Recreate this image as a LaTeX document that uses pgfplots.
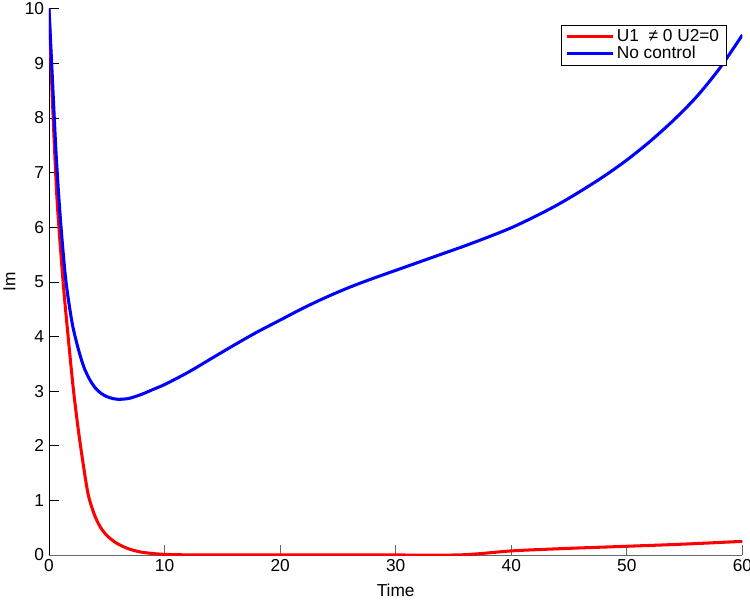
\documentclass[border=0pt]{standalone}
\usepackage{fontspec}
\setmainfont{Liberation Sans}
\usepackage{pgfplots}
\pgfplotsset{compat=1.18}

\begin{document}
\begin{tikzpicture}[x=0.01in,y=0.01in]
\begin{axis}[
    name=ax,
    at={(0,0)},
    anchor=south west,
    scale only axis,
    width=6.93in,
    height=5.46in,
    xmin=0, xmax=60,
    ymin=0, ymax=10,
    xtick={0,10,...,60},
    ytick={0,1,...,10},
    axis x line*=bottom,
    axis y line*=left,
    x axis line style={draw=gray!80!black, line width=0.6pt, -},
    y axis line style={draw=black, line width=0.6pt, -},
    tick align=inside,
    major tick length=0.1in,
    tick style={black, line width=0.5pt},
    xtick style={gray!80!black},
    font=\fontsize{12.5}{14}\selectfont,
    /pgf/number format/assume math mode=true,
    xlabel={Time},
    ylabel={Im},
    xlabel style={yshift=-0.02in},
    legend cell align=left,
    legend style={at={(rel axis cs:1,1)}, xshift=-0.16in, yshift=-0.16in,
        anchor=north east, draw=black, line width=0.5pt,
        font=\fontsize{12.5}{13}\selectfont, inner xsep=3pt, inner ysep=1pt, row sep=-2pt},
    legend image code/.code={\draw[#1, line width=2.2pt] (0in,0in) -- (0.45in,0in);},
]
\addplot[red, line width=2.2pt, smooth, tension=0.5] coordinates {
    (0,10) (0.3,8.3) (0.67,6.6) (1.0,5.6) (1.3,4.8) (1.7,3.9) (2.1,3.05)
    (2.5,2.35) (2.9,1.75) (3.4,1.1) (4,0.7) (4.6,0.46) (5.2,0.32)
    (5.9,0.21) (6.8,0.12) (7.7,0.065) (8.6,0.035) (10,0.012) (12,0.003)
    (15,0) (20,0) (25,0) (30,0) (35,0) (37,0.02) (40,0.075) (43,0.105)
    (46,0.13) (50,0.16) (55,0.2) (60,0.25)
};
\addplot[blue, line width=2.2pt, smooth, tension=0.5] coordinates {
    (0,10) (0.3,8.7) (0.6,7.4) (0.9,6.4) (1.2,5.6) (1.5,4.95) (2,4.25)
    (2.5,3.8) (3,3.45) (3.5,3.22) (4,3.06) (4.5,2.96) (5,2.9) (5.5,2.865)
    (6,2.85) (6.5,2.855) (7,2.87) (8,2.94) (9,3.03) (10,3.12) (12,3.34)
    (14,3.59) (16,3.84) (18,4.08) (20,4.3) (22,4.52) (24,4.72) (26,4.9)
    (28,5.06) (30,5.21) (32,5.36) (34,5.51) (36,5.66) (38,5.82) (40,5.99)
    (42,6.19) (44,6.41) (46,6.66) (48,6.93) (50,7.23) (52,7.57) (54,7.95)
    (56,8.38) (58,8.9) (60,9.52)
};
\legend{U1\ \ ≠ 0 U2=0, No control}
\end{axis}
\pgfresetboundingbox
\path (ax.south west) ++(-49,-44) rectangle ++(750,599);
\end{tikzpicture}
\end{document}
